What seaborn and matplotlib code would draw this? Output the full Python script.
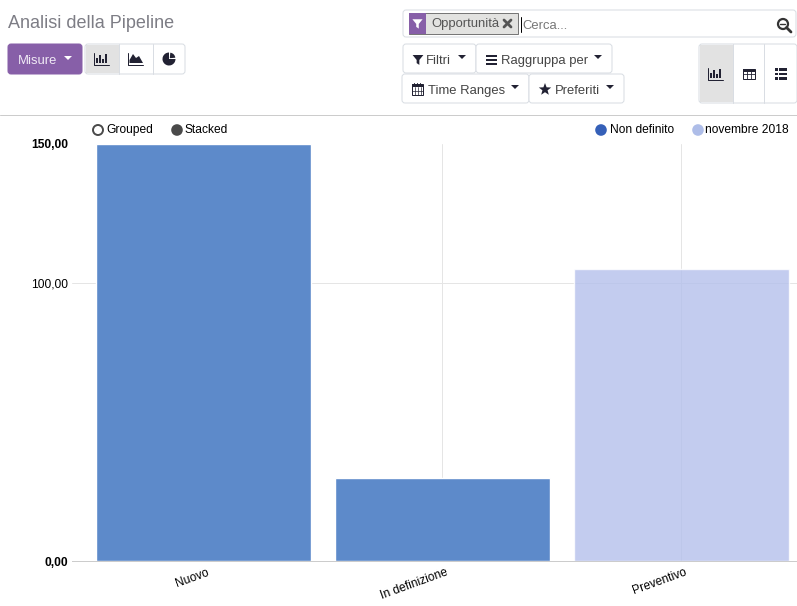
# import necessary libraries
import numpy as np
import pandas as pd
import matplotlib
matplotlib.use('Agg')
import matplotlib.pyplot as plt
import matplotlib.transforms as mtrans
import seaborn as sns
from matplotlib.patches import Circle, FancyBboxPatch, Polygon, Rectangle, Wedge

# Chart data
stages = ['Nuovo', 'In definizione', 'Preventivo']
values = [150, 30, 105]
series = ['Non definito', 'Non definito', 'novembre 2018']
tick_values = [0, 50, 100, 150]
tick_labels = ['0,00', '', '100,00', '150,00']

W, H = 797, 606
PURPLE = '#875fa8'
BORDER = '#d9dde3'
DARK = '#222233'
GREY_TEXT = '#444444'
THIN = 0.72  # one pixel at dpi 100

sns.set_theme(style='white')
plt.rcParams['font.family'] = ['Liberation Sans', 'DejaVu Sans']

fig = plt.figure(figsize=(W / 100, H / 100), dpi=100, facecolor='white')

# Pixel canvas for the page furniture around the chart
ui = fig.add_axes([0, 0, 1, 1])
ui.set_xlim(0, W)
ui.set_ylim(H, 0)
ui.axis('off')


def px(size):
    return size * 0.72


def box(x0, y0, x1, y1, face='white', edge=BORDER, lw=THIN, r=3):
    ui.add_patch(FancyBboxPatch((x0 + r, y0 + r), x1 - x0 - 2 * r, y1 - y0 - 2 * r,
                                boxstyle=f'round,pad={r},rounding_size={r}',
                                fc=face, ec=edge, lw=lw))


def caret(x, y, color=DARK):
    ui.add_patch(Polygon([(x - 4, y - 2), (x + 4, y - 2), (x, y + 2)], fc=color, ec='none'))


def funnel(x, y, color=DARK, s=1.0):
    pts = [(-6, -5), (6, -5), (1.5, 0.5), (1.5, 6), (-1.5, 4), (-1.5, 0.5)]
    ui.add_patch(Polygon([(x + a * s, y + b * s) for a, b in pts], fc=color, ec='none'))


def bar_icon(x, y):
    ui.plot([x - 7.5, x - 7.5, x + 7.5], [y - 6, y + 5.5, y + 5.5], color=DARK, lw=THIN)
    for dx, h in zip([-4.5, -1.5, 1.5, 4.5], [5, 8, 4, 9]):
        ui.add_patch(Rectangle((x + dx - 1, y + 4 - h), 2, h, fc=DARK, ec='none'))


def area_icon(x, y):
    ui.plot([x - 7.5, x - 7.5, x + 7.5], [y - 6, y + 5.5, y + 5.5], color=DARK, lw=THIN)
    ui.add_patch(Polygon([(x - 6.5, y + 4), (x - 6.5, y + 1), (x - 3, y - 5), (x, y - 1),
                          (x + 3, y - 3), (x + 7, y + 4)], fc=DARK, ec='none'))


def pie_icon(x, y):
    ui.add_patch(Wedge((x, y), 6.5, 0, 270, fc=DARK, ec='none'))
    ui.add_patch(Wedge((x + 0.8, y - 0.8), 5.5, 275, 355, fc=DARK, ec='none'))


def table_icon(x, y):
    ui.add_patch(Rectangle((x - 6, y - 5), 12, 10, fc='white', ec=DARK, lw=THIN))
    ui.add_patch(Rectangle((x - 6, y - 5), 12, 2.5, fc=DARK, ec='none'))
    ui.plot([x - 6, x + 6], [y, y], color=DARK, lw=0.6)
    ui.plot([x - 2, x - 2], [y - 5, y + 5], color=DARK, lw=0.6)
    ui.plot([x + 2, x + 2], [y - 5, y + 5], color=DARK, lw=0.6)


def list_icon(x, y):
    for dy in [-4.5, 0, 4.5]:
        ui.add_patch(Rectangle((x - 6, y + dy - 1.2), 2.6, 2.4, fc=DARK, ec='none'))
        ui.add_patch(Rectangle((x - 2, y + dy - 1.2), 8, 2.4, fc=DARK, ec='none'))


def label(x, y, s, size=13, color=GREY_TEXT, **kw):
    # va='center' sits a little high for this font
    ui.text(x, y + 1.5, s, fontsize=px(size), color=color, va='center', **kw)


# Title and the left toolbar
label(8, 22, 'Analisi della Pipeline', size=18, color='#7d7d85')
box(8, 44, 82, 74, face=PURPLE, edge=PURPLE)
label(18, 59.5, 'Misure', color='#f0eaf5')
caret(68, 58, color='white')

box(85, 44, 185, 74)
ui.add_patch(Rectangle((86, 45), 33.5, 28, fc='#e2e2e2', ec='none'))
ui.plot([119.5, 119.5], [44, 74], color=BORDER, lw=THIN)
ui.plot([153.5, 153.5], [44, 74], color=BORDER, lw=THIN)
bar_icon(102, 59)
area_icon(136, 59)
pie_icon(169, 59)

# Search box
box(403, 10, 796, 37)
ui.add_patch(Rectangle((409, 13), 109, 20.5, fc='#e2e2e0', ec='#777777', lw=THIN))
ui.add_patch(Rectangle((409, 13), 17, 20.5, fc=PURPLE, ec='none'))
funnel(417.5, 23.5, color='white', s=0.85)
label(431, 22.5, 'Opportunità', size=13, color='#555555')
ui.plot([504, 511], [20, 27], color='#555555', lw=2)
ui.plot([504, 511], [27, 20], color='#555555', lw=2)
ui.plot([521.5, 521.5], [17, 32], color='black', lw=THIN)
label(522, 24.5, 'Cerca...', color='#777777')
ui.add_patch(Circle((783, 24), 5, fc='none', ec='#333333', lw=1.6))
ui.plot([786.5, 791], [27.5, 32], color='#333333', lw=2)
ui.plot([780.5, 785.5], [24, 24], color='#333333', lw=1)

# Filter buttons
box(403, 44, 476, 73)
box(476, 44, 612, 73)
box(402, 74, 529, 103)
box(529, 74, 624, 103)
funnel(418, 59.5, s=0.9)
label(426, 59.5, 'Filtri')
caret(462, 57)
for dy in [-4, 0, 4]:
    ui.add_patch(Rectangle((486, 59.5 + dy - 1), 11, 2, fc=DARK, ec='none'))
label(501, 59.5, 'Raggruppa per')
caret(598, 57)
ui.add_patch(Rectangle((412, 84), 11, 11, fc='white', ec=DARK, lw=THIN))
ui.add_patch(Rectangle((412, 84), 11, 3, fc=DARK, ec='none'))
for gx in [415, 418, 421]:
    ui.plot([gx, gx], [87, 95], color=DARK, lw=0.5)
    ui.plot([gx - 0.5, gx - 0.5], [82.5, 85], color=DARK, lw=THIN)
ui.plot([412, 423], [90.5, 90.5], color=DARK, lw=0.5)
label(428, 89.5, 'Time Ranges')
caret(515, 87)
ang = np.deg2rad(np.arange(10) * 36 - 90)
rad = np.where(np.arange(10) % 2 == 0, 6.5, 2.7)
ui.add_patch(Polygon(np.c_[545 + rad * np.cos(ang), 89.5 + rad * np.sin(ang)], fc=DARK, ec='none'))
label(555, 89.5, 'Preferiti')
caret(610, 87)

# View switcher
box(699, 44, 797, 103)
ui.add_patch(Rectangle((700, 45), 33.5, 57, fc='#e2e2e2', ec='none'))
ui.plot([733.5, 733.5], [44, 103], color=BORDER, lw=THIN)
ui.plot([764.5, 764.5], [44, 103], color=BORDER, lw=THIN)
bar_icon(716, 74)
table_icon(749, 74)
list_icon(781, 74)

# Header rule
ui.plot([0, W], [114.5, 114.5], color='#cccccc', lw=THIN)

# Chart legends
ui.add_patch(Circle((98, 130), 5, fc='white', ec='#4a4a4a', lw=1.4))
label(106, 128.5, 'Grouped', size=12, color='black')
ui.add_patch(Circle((177, 130), 5.8, fc='#4a4a4a', ec='none'))
label(185, 128.5, 'Stacked', size=12, color='black')
ui.add_patch(Circle((601, 130), 5.8, fc='#3560b8', ec='none'))
label(610, 128.5, 'Non definito', size=12, color='black')
ui.add_patch(Circle((698, 130), 5.8, fc='#aebde8', ec='none'))
label(705.5, 128.5, 'novembre 2018', size=12, color='black')

# Bar chart
ax = fig.add_axes([72 / W, 1 - 561 / H, (W - 72) / W, (561 - 144) / H], facecolor='none')
df = pd.DataFrame({'stage': stages, 'value': values, 'series': series})
palette = {'Non definito': '#5d8aca', 'novembre 2018': '#b4c0ec'}
sns.barplot(data=df, x='stage', y='value', hue='series', order=stages, dodge=False,
            palette=palette, width=0.9, saturation=1, legend=False, ax=ax)
# only the second series lets the grid show through
for bar in ax.containers[1]:
    bar.set_alpha(0.8)

# Keep 239 px per category, category 0 centred on x=203.5
ax.set_xlim((72 - 203.1) / 239, (W - 203.1) / 239)
ax.set_ylim(0, 150)
ax.set_xlabel('')
ax.set_ylabel('')
ax.set_axisbelow(True)
ax.grid(True, color='#e5e5e5', lw=THIN)
ax.set_yticks(tick_values)
ax.set_yticklabels(tick_labels, fontsize=px(12), color='black')
for t in ax.get_yticklabels():
    if t.get_text() in ('0,00', '150,00'):
        t.set_fontweight('bold')
# only the 100,00 grid line is drawn in the original
for i in [1, 3]:
    ax.yaxis.get_gridlines()[i].set_visible(False)
ax.tick_params(axis='both', length=0)
ax.tick_params(axis='y', pad=3)
ax.tick_params(axis='x', pad=4)
ax.set_xticks(range(len(stages)))
ax.set_xticklabels(stages, rotation=20, ha='right', rotation_mode='anchor',
                   fontsize=px(12), color='black')
shift = mtrans.ScaledTranslation(3 / 100, 0, fig.dpi_scale_trans)
for t in ax.get_xticklabels():
    t.set_transform(t.get_transform() + shift)
sns.despine(ax=ax, left=True, top=True, right=True)
ax.spines['bottom'].set_color('#cccccc')
ax.spines['bottom'].set_linewidth(THIN)

fig.savefig('out.png', dpi=100)
